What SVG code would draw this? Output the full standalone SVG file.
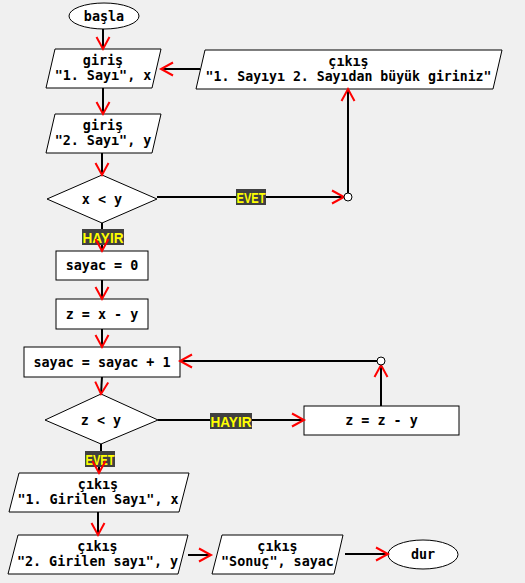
<svg xmlns="http://www.w3.org/2000/svg" width="525" height="583" viewBox="0 0 525 583">
<style>
.shape{fill:#ffffff;stroke:#000000;stroke-width:1}
.t{font-family:"DejaVu Sans Mono","Liberation Mono",monospace;font-weight:bold;font-size:13.4px;fill:#000000;text-anchor:middle}
.c{dominant-baseline:central}
.con{stroke:#000000;stroke-width:2;fill:none}
.arr{marker-end:url(#ah)}
.lbg{fill:#404040}
.lt{font-family:"Liberation Sans",Arial,sans-serif;font-weight:bold;font-size:14px;fill:#ffff00;text-anchor:middle;dominant-baseline:central}
.knot{fill:#ffffff;stroke:#000000;stroke-width:1}
</style>
<defs>
<marker id="ah" markerUnits="userSpaceOnUse" markerWidth="30" markerHeight="30" viewBox="-15 -15 30 30" refX="0" refY="0" orient="auto" overflow="visible">
<path d="M-12,-6.5 L0,0 L-12,6.5" fill="none" stroke="#ff0000" stroke-width="2"/>
</marker>
</defs>
<rect x="0" y="0" width="525" height="583" fill="#f0f0f0"/>

<g id="start">
<ellipse class="shape" cx="104" cy="16" rx="35" ry="13"/>
<text class="t c" x="104" y="16">başla</text>
</g>
<g id="input1">
<polygon class="shape" points="55,49 161,49 152,88 46,88"/>
<text class="t" x="103" y="65">giriş</text>
<text class="t" x="103" y="80">"1. Sayı", x</text>
</g>
<g id="input2">
<polygon class="shape" points="55,114 161,114 152,153 46,153"/>
<text class="t" x="103" y="130">giriş</text>
<text class="t" x="103" y="145">"2. Sayı", y</text>
</g>
<g id="outErr">
<polygon class="shape" points="205,50 502,50 493,89 196,89"/>
<text class="t" x="348.5" y="66">çıkış</text>
<text class="t" x="348.5" y="81" textLength="286" lengthAdjust="spacingAndGlyphs">"1. Sayıyı 2. Sayıdan büyük giriniz"</text>
</g>
<g id="dec1">
<polygon class="shape" points="102,175 157,199 102,223 47,199"/>
<text class="t c" x="102" y="199">x &lt; y</text>
</g>
<g id="init">
<rect class="shape" x="56" y="251" width="92" height="29"/>
<text class="t c" x="102" y="265.5">sayac = 0</text>
</g>
<g id="zinit">
<rect class="shape" x="56" y="299" width="92" height="30"/>
<text class="t c" x="102" y="314">z = x - y</text>
</g>
<g id="inc">
<rect class="shape" x="24" y="347" width="156" height="30"/>
<text class="t c" x="102" y="362">sayac = sayac + 1</text>
</g>
<g id="dec2">
<polygon class="shape" points="101,394 158,420 101,444 45,420"/>
<text class="t c" x="101" y="420">z &lt; y</text>
</g>
<g id="zsub">
<rect class="shape" x="304" y="406" width="155" height="29"/>
<text class="t c" x="381.5" y="420.5">z = z - y</text>
</g>
<g id="out1">
<polygon class="shape" points="19,473 189,473 179,512 9,512"/>
<text class="t" x="98" y="489">çıkış</text>
<text class="t" x="98" y="504">"1. Girilen Sayı", x</text>
</g>
<g id="out2">
<polygon class="shape" points="18,535 188,535 178,574 8,574"/>
<text class="t" x="97.5" y="551">çıkış</text>
<text class="t" x="97.5" y="566">"2. Girilen sayı", y</text>
</g>
<g id="out3">
<polygon class="shape" points="222,535 343,535 334,574 212,574"/>
<text class="t" x="277.5" y="551">çıkış</text>
<text class="t" x="277.5" y="566">"Sonuç", sayac</text>
</g>
<g id="end">
<ellipse class="shape" cx="423" cy="554.5" rx="35" ry="14.5"/>
<text class="t c" x="423" y="554.5">dur</text>
</g>

<g id="labels">
<rect class="lbg" x="236" y="189" width="30" height="16"/>
<text class="lt" x="251" y="197.5" textLength="29" lengthAdjust="spacingAndGlyphs">EVET</text>
<rect class="lbg" x="82" y="229" width="42" height="16"/>
<text class="lt" x="103" y="237.5" textLength="41" lengthAdjust="spacingAndGlyphs">HAYIR</text>
<rect class="lbg" x="210" y="413" width="42" height="16"/>
<text class="lt" x="231" y="421.5" textLength="41" lengthAdjust="spacingAndGlyphs">HAYIR</text>
<rect class="lbg" x="85" y="451" width="30" height="16"/>
<text class="lt" x="100" y="459.5" textLength="29" lengthAdjust="spacingAndGlyphs">EVET</text>
</g>

<g id="connectors">
<path class="con arr" d="M103,29 L103,49"/>
<path class="con arr" d="M103,88 L103,114"/>
<path class="con arr" d="M102,153 L102,175"/>
<path class="con" d="M157,197 L236,197"/>
<path class="con arr" d="M266,197 L344,197"/>
<path class="con arr" d="M348,193 L348,89"/>
<path class="con arr" d="M200,69 L161,69"/>
<path class="con" d="M102,223 L102,229"/>
<path class="con arr" d="M102,245 L102,251"/>
<path class="con arr" d="M102,280 L102,299"/>
<path class="con arr" d="M102,329 L102,347"/>
<path class="con arr" d="M102,377 L101,394"/>
<path class="con" d="M158,420 L210,420"/>
<path class="con arr" d="M252,420 L304,420"/>
<path class="con arr" d="M381,406 L381,365"/>
<path class="con arr" d="M377,361 L180,361"/>
<path class="con" d="M101,444 L101,451"/>
<path class="con arr" d="M99,467 L99,473"/>
<path class="con arr" d="M98,512 L98,535"/>
<path class="con arr" d="M188,555 L211,555"/>
<path class="con arr" d="M345,554 L388,554"/>
<circle class="knot" cx="348" cy="197" r="4"/>
<circle class="knot" cx="381" cy="361" r="4"/>
</g>
</svg>
